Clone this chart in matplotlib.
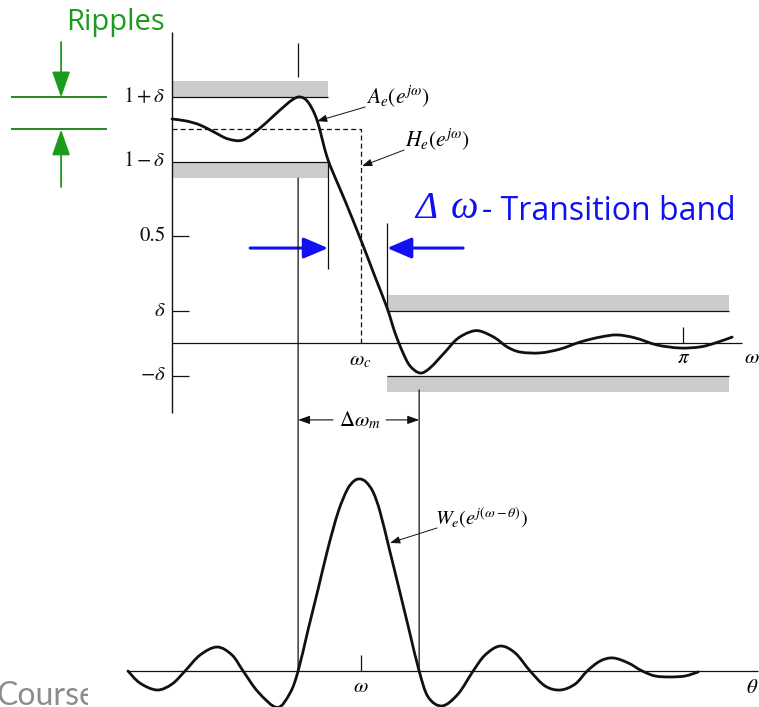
import numpy as np
import matplotlib
matplotlib.use("Agg")
import matplotlib.pyplot as plt
from matplotlib.path import Path
from matplotlib.patches import PathPatch, ConnectionPatch, Rectangle

plt.rcParams['mathtext.fontset'] = 'stix'

# amplitude response A_e(e^jw) of the windowed filter (w in rad)
a_w = [0.000, 0.086, 0.172, 0.258, 0.344, 0.436, 0.541, 0.664, 0.738, 0.787,
       0.836, 0.891, 0.953, 1.014, 1.064, 1.168, 1.248, 1.322, 1.371, 1.420,
       1.463, 1.525, 1.586, 1.678, 1.752, 1.832, 1.894, 1.986, 2.060, 2.140,
       2.263, 2.386, 2.509, 2.632, 2.736, 2.847, 2.982, 3.123, 3.246, 3.338,
       3.443]
a_amp = [1.049, 1.040, 1.021, 0.988, 0.956, 0.951, 1.007, 1.091, 1.138, 1.152,
         1.128, 1.044, 0.871, 0.755, 0.666, 0.470, 0.311, 0.166, 0.049, -0.044,
         -0.105, -0.138, -0.114, -0.040, 0.021, 0.054, 0.058, 0.026, -0.016, -0.040,
         -0.044, -0.026, 0.007, 0.030, 0.040, 0.026, -0.007, -0.021, -0.016, 0.002,
         0.030]

# window spectrum W_e(e^j(w-theta)) against theta
w_theta = [-0.271, -0.197, -0.092, 0.000, 0.080, 0.172, 0.277, 0.369, 0.437, 0.529,
           0.646, 0.725, 0.775, 0.836, 0.898, 0.959, 1.021, 1.076, 1.119, 1.156,
           1.193, 1.236, 1.279, 1.340, 1.402, 1.463, 1.519, 1.574, 1.660, 1.758,
           1.851, 1.924, 2.017, 2.109, 2.201, 2.293, 2.386, 2.478, 2.552, 2.632,
           2.711, 2.804, 2.890, 2.970, 3.062, 3.154, 3.234]
w_amp = [0.000, -0.063, -0.099, -0.068, 0.000, 0.083, 0.125, 0.083, 0.000, -0.109,
         -0.190, -0.115, 0.000, 0.214, 0.427, 0.641, 0.828, 0.943, 0.990, 1.000,
         0.984, 0.932, 0.828, 0.620, 0.406, 0.193, 0.000, -0.135, -0.182, -0.120,
         0.000, 0.083, 0.130, 0.094, 0.000, -0.078, -0.099, -0.068, 0.000, 0.052,
         0.068, 0.042, 0.000, -0.026, -0.031, -0.026, -0.005]

DELTA = 0.15      # ripple tolerance
WP = 0.959        # passband edge
WS = 1.322        # stopband edge
WC = 1.16         # ideal cutoff
STOP_END = 3.425
ML_EDGES = [0.775, 1.519]   # main lobe zeros of W

# ideal lowpass H_e(e^jw)
h_w = [0.0, WC, WC]
h_amp = [1.0, 1.0, 0.0]

y_ticks = [1 + DELTA, 1 - DELTA, 0.5, DELTA, -DELTA]
y_labels = [r'$1+\delta$', r'$1-\delta$', '0.5', r'$\delta$', r'$-\delta$']

BLACK = '#111111'
GRAY = '#cccccc'
BLUE = '#1010f0'
GREEN_TXT = '#1c9c1c'
GREEN_LN = '#128012'


def smooth_path(x, y):
    # Catmull-Rom through the points, written as cubic Bezier segments
    p = np.column_stack([x, y])
    ext = np.vstack([p[0], p, p[-1]])
    verts = [p[0]]
    codes = [Path.MOVETO]
    for i in range(1, len(ext) - 2):
        c1 = ext[i] + (ext[i + 1] - ext[i - 1]) / 6.0
        c2 = ext[i + 1] - (ext[i + 2] - ext[i]) / 6.0
        verts += [c1, c2, ext[i + 1]]
        codes += [Path.CURVE4] * 3
    return Path(verts, codes)


def arrow(ax, start, end, color=BLACK, lw=0.7, hl=0.6, hw=0.22, scale=10):
    ax.annotate('', xy=end, xytext=start,
                arrowprops=dict(arrowstyle='-|>,head_length=%g,head_width=%g' % (hl, hw),
                                color=color, lw=lw, shrinkA=0, shrinkB=0,
                                mutation_scale=scale))


fig = plt.figure(figsize=(7.59, 7.07), dpi=100)
ax_bot = fig.add_axes([0, 0, 1, 1])
ax_top = fig.add_axes([0, 0, 1, 1])
for ax in (ax_bot, ax_top):
    ax.set_xlim(-1.0575, 3.608)
    ax.axis('off')
    ax.patch.set_alpha(0)
ax_top.set_ylim(-1.6986, 1.6051)
ax_bot.set_ylim(-0.1875, 3.4948)

# ---- upper plot: amplitude response ----
band = 0.075
ax_top.add_patch(Rectangle((0, 1 + DELTA), WP, band, color=GRAY, lw=0, zorder=1))
ax_top.add_patch(Rectangle((0, 1 - DELTA - band), WP, band, color=GRAY, lw=0, zorder=1))
ax_top.add_patch(Rectangle((WS, DELTA), STOP_END - WS, band, color=GRAY, lw=0, zorder=1))
ax_top.add_patch(Rectangle((WS, -DELTA - band), STOP_END - WS, band, color=GRAY, lw=0, zorder=1))
ax_top.hlines([1 + DELTA, 1 - DELTA], 0, WP, color=BLACK, lw=0.9, zorder=2)
ax_top.hlines([DELTA, -DELTA], WS, STOP_END, color=BLACK, lw=0.9, zorder=2)

# axes
ax_top.vlines(0, -0.325, 1.456, color=BLACK, lw=1.0)
ax_top.hlines(0, 0, 3.504, color=BLACK, lw=0.9)
ax_top.hlines([0.5, DELTA, -DELTA], 0, 0.105, color=BLACK, lw=0.9)
ax_top.vlines(np.pi, 0, 0.077, color=BLACK, lw=0.9)
for yv, lab in zip(y_ticks, y_labels):
    ax_top.text(-0.04, yv, lab, ha='right', va='center', fontsize=15,
                fontfamily='STIXGeneral', color=BLACK)
ax_top.text(WC, -0.077, r'$\omega_c$', ha='center', va='center', fontsize=15)
ax_top.text(np.pi, -0.063, r'$\pi$', ha='center', va='center', fontsize=15)
ax_top.text(3.566, -0.063, r'$\omega$', ha='center', va='center', fontsize=15)

ax_top.plot(h_w, h_amp, color=BLACK, lw=0.9, dashes=(4, 2.5), zorder=3)
ax_top.add_patch(PathPatch(smooth_path(a_w, a_amp), fill=False, color=BLACK,
                           lw=2.0, capstyle='round', joinstyle='round', zorder=4))

# transition band edges
ax_top.vlines(WP, 0.348, 1 - DELTA, color=BLACK, lw=0.9)
ax_top.vlines(WS, DELTA, 0.563, color=BLACK, lw=0.9)
arrow(ax_top, (0.480, 0.446), (WP, 0.446), color=BLUE, lw=2.2, hl=0.75, hw=0.32, scale=20)
arrow(ax_top, (1.789, 0.446), (WS, 0.446), color=BLUE, lw=2.2, hl=0.75, hw=0.32, scale=20)
ax_top.text(1.494, 0.586, 'Δ', fontsize=27, fontfamily='Liberation Serif',
            style='italic', color=BLUE, va='baseline')
ax_top.text(1.712, 0.586, 'ω', fontsize=28, fontfamily='Liberation Serif',
            style='italic', color=BLUE, va='baseline')
ax_top.text(1.905, 0.577, '- Transition band', fontsize=23, fontfamily='Open Sans',
            color=BLUE, va='baseline')

# curve labels
arrow(ax_top, (1.187, 1.105), (0.891, 1.039))
ax_top.text(1.192, 1.152, r'$A_e(e^{j\omega})$', ha='left', va='center', fontsize=15.5)
arrow(ax_top, (1.426, 0.904), (1.168, 0.829))
ax_top.text(1.433, 0.951, r'$H_e(e^{j\omega})$', ha='left', va='center', fontsize=15.5)

# ripple marker
ax_top.hlines([1 + DELTA, 1.0], -0.990, -0.400, color=GREEN_LN, lw=1.3)
arrow(ax_top, (-0.682, 1.409), (-0.682, 1 + DELTA), color=GREEN_TXT, lw=1.3,
      hl=0.8, hw=0.28, scale=20)
arrow(ax_top, (-0.682, 0.731), (-0.682, 1.0), color=GREEN_TXT, lw=1.3,
      hl=0.8, hw=0.28, scale=20)
ax_top.text(-0.652, 1.502, 'Ripples', fontsize=21, fontfamily='Open Sans',
            color=GREEN_TXT, ha='left', va='center')

# main lobe width lines
ax_top.vlines(ML_EDGES[0], 1.245, 1.404, color=BLACK, lw=0.9)
fig.add_artist(ConnectionPatch(xyA=(ML_EDGES[0], 0.773), coordsA=ax_top.transData,
                               xyB=(ML_EDGES[0], 0), coordsB=ax_bot.transData,
                               color=BLACK, lw=0.9))
fig.add_artist(ConnectionPatch(xyA=(ML_EDGES[1], -0.217), coordsA=ax_top.transData,
                               xyB=(ML_EDGES[1], 0), coordsB=ax_bot.transData,
                               color=BLACK, lw=0.9))
arrow(ax_top, (0.99, -0.357), (ML_EDGES[0], -0.357), lw=0.8, hl=0.7, hw=0.25)
arrow(ax_top, (1.316, -0.357), (ML_EDGES[1], -0.357), lw=0.8, hl=0.7, hw=0.25)
ax_top.text(1.153, -0.357, r'$\mathit{\Delta}\omega_m$', ha='center', va='center',
            fontsize=15)

# ---- lower plot: window spectrum ----
ax_bot.hlines(0, -0.271, 3.603, color=BLACK, lw=0.9)
ax_bot.vlines(WC, 0, 0.083, color=BLACK, lw=0.9)
ax_bot.add_patch(PathPatch(smooth_path(w_theta, w_amp), fill=False, color=BLACK,
                           lw=2.0, capstyle='round', joinstyle='round', zorder=4))
ax_bot.text(WC, -0.078, r'$\omega$', ha='center', va='center', fontsize=15)
ax_bot.text(3.566, -0.083, r'$\theta$', ha='center', va='center', fontsize=15)
arrow(ax_bot, (1.629, 0.745), (1.340, 0.667))
ax_bot.text(1.617, 0.797, r'$W_e(e^{j(\omega-\theta)})$', ha='left', va='center',
            fontsize=14.5)

# footer text, cut at the left margin
cax = fig.add_axes([0, 0, 88 / 759, 1])
cax.axis('off')
cax.text(-0.035, 2 / 707, 'Course', fontsize=23, fontfamily='Lato', color='#8c8c8c',
         ha='left', va='baseline', clip_on=True)

fig.savefig('out.png', dpi=100)
